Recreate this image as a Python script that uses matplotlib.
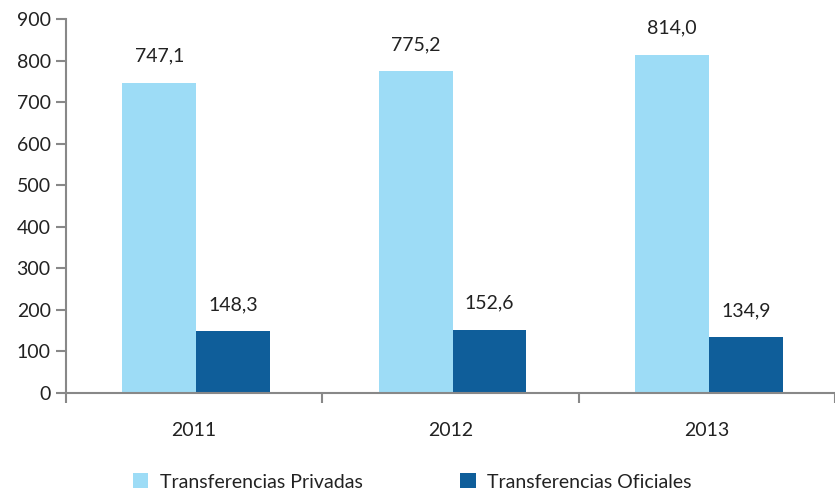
import numpy as np
import matplotlib
matplotlib.use("Agg")
import matplotlib.pyplot as plt
from matplotlib.ticker import MultipleLocator, FixedLocator

plt.rcParams['font.family'] = ['Lato', 'DejaVu Sans']

years = ['2011', '2012', '2013']
privadas = [747.1, 775.2, 814.0]
oficiales = [148.3, 152.6, 134.9]
series_names = ['Transferencias Privadas', 'Transferencias Oficiales']
colors = ['#9DDCF6', '#0F5E9A']

fig = plt.figure(figsize=(8.35, 4.91), dpi=100)
ax = fig.add_axes([0.079, 0.1996, 0.921, 0.7614])

x = np.arange(len(years))
w = 0.288
b1 = ax.bar(x - w/2 + 0.008, privadas, w, color=colors[0], label=series_names[0])
b2 = ax.bar(x + w/2 + 0.008, oficiales, w, color=colors[1], label=series_names[1])

def fmt(v):
    return f'{v:.1f}'.replace('.', ',')

for bars, vals in [(b1, privadas), (b2, oficiales)]:
    for r, v in zip(bars, vals):
        ax.annotate(fmt(v), (r.get_x() + r.get_width()/2, v), xytext=(0, 13),
                    textcoords='offset points', ha='center', va='bottom',
                    fontsize=14, color='#222222')

ax.set_xlim(-0.5, 2.5)
ax.set_ylim(0, 900)
ax.yaxis.set_major_locator(MultipleLocator(100))
ax.set_xticks(x)
ax.set_xticklabels(years)
ax.xaxis.set_minor_locator(FixedLocator([-0.5, 0.5, 1.5, 2.5]))
ax.tick_params(axis='x', which='major', length=0, pad=21, labelsize=14, colors='#222222')
ax.tick_params(axis='x', which='minor', length=7, width=1.5, color='#888888')
ax.tick_params(axis='y', length=7, width=1.5, color='#888888', labelsize=14, labelcolor='#222222', pad=4)

for s in ['top', 'right']:
    ax.spines[s].set_visible(False)
for s in ['left', 'bottom']:
    ax.spines[s].set_color('#888888')
    ax.spines[s].set_linewidth(1.5)

fig.legend(handles=[b1, b2], loc='lower left', bbox_to_anchor=(0.138, -0.035),
           ncol=2, frameon=False, fontsize=14, handlelength=0.8, handleheight=0.8,
           columnspacing=5.0, handletextpad=0.6, labelcolor='#222222')

fig.savefig('out.png', dpi=100)
